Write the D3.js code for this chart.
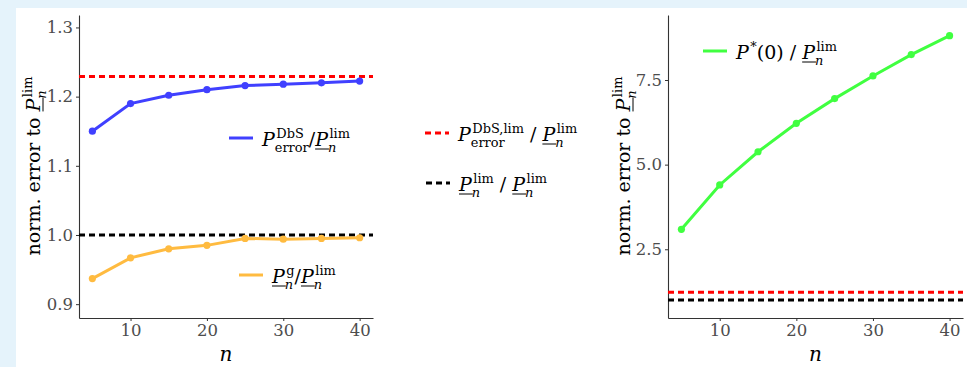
<!DOCTYPE html>
<html>
<head>
<meta charset="utf-8">
<script src="https://cdn.jsdelivr.net/npm/d3@7"></script>
<style>
  body { margin: 0; background: #e5f3fb; }
  svg { display: block; }
  text { font-family: "DejaVu Serif", serif; white-space: pre; }
</style>
</head>
<body>
<div id="container"></div>
<script>
// data
var nVals = [5, 10, 15, 20, 25, 30, 35, 40];
var dbsRatio = [1.150, 1.190, 1.202, 1.210, 1.216, 1.218, 1.220, 1.2225];
var greedyRatio = [0.937, 0.967, 0.980, 0.985, 0.995, 0.994, 0.995, 0.996];
var p0Ratio = [3.09, 4.40, 5.38, 6.22, 6.95, 7.62, 8.25, 8.81];
var dbsLim = 1.229, baseLim = 1.0;
var xTicks = [10, 20, 30, 40];
var yTicksLeft = [0.9, 1.0, 1.1, 1.2, 1.3];
var yTicksRight = [2.5, 5.0, 7.5];

var width = 967, height = 367;
var svg = d3.select("div#container").append("svg")
  .attr("width", width)
  .attr("height", height);

// white plotting area
svg.append("rect").attr("x", 16).attr("y", 8)
  .attr("width", width - 16).attr("height", height - 8).attr("fill", "#fff");

var blue = "#4040ff", orange = "#ffbb40", green = "#40ff40";

// small helper to write things like P_n^lim with separate texts
// tokens: {b: base text, it: italic, ul: underline, sup, sub}
function mathText(g, x, y, tokens, fs) {
  var cx = x;
  tokens.forEach(function(t) {
    var bt = g.append("text").attr("x", cx).attr("y", y)
      .style("font-size", fs + "px")
      .style("font-style", t.it ? "italic" : "normal")
      .text(t.b);
    var w = bt.node().getComputedTextLength();
    if (t.ul) {
      g.append("line").attr("x1", cx).attr("x2", cx + w + 1)
        .attr("y1", y + 3).attr("y2", y + 3)
        .attr("stroke", "#000").attr("stroke-width", 1);
    }
    var extra = 0;
    var off = t.it ? 1.5 : 0;
    if (t.sup) {
      var st = g.append("text").attr("x", cx + w + off).attr("y", y - fs * 0.42)
        .style("font-size", (fs * 0.68) + "px")
        .style("font-style", t.supIt ? "italic" : "normal")
        .text(t.sup);
      extra = Math.max(extra, st.node().getComputedTextLength() + off);
    }
    if (t.sub) {
      var sb = g.append("text").attr("x", cx + w).attr("y", y + fs * 0.3)
        .style("font-size", (fs * 0.68) + "px")
        .style("font-style", t.subIt ? "italic" : "normal")
        .text(t.sub);
      extra = Math.max(extra, sb.node().getComputedTextLength());
    }
    cx += w + extra;
  });
  return cx - x;
}

var Plim = {b: "P", it: true, ul: true, sub: "n", subIt: true, sup: "lim"};

function drawPanel(left, right, top, bottom, yDomain, yTicks, yFmt) {
  var x = d3.scaleLinear().domain([3.25, 41.75]).range([left, right]);
  var y = d3.scaleLinear().domain(yDomain).range([bottom, top]);
  var g = svg.append("g");

  var xAxis = g.append("g").attr("transform", "translate(0," + bottom + ")")
    .call(d3.axisBottom(x).tickValues(xTicks).tickSizeInner(3).tickSizeOuter(0).tickPadding(3));
  var yAxis = g.append("g").attr("transform", "translate(" + left + ",0)")
    .call(d3.axisLeft(y).tickValues(yTicks).tickFormat(d3.format(yFmt))
      .tickSizeInner(3).tickSizeOuter(0).tickPadding(3));
  [xAxis, yAxis].forEach(function(a) {
    a.attr("font-family", null);
    a.select(".domain").attr("stroke", "#333").attr("stroke-width", 1.1);
    a.selectAll(".tick line").attr("stroke", "#333");
    a.selectAll(".tick text").attr("fill", "#4d4d4d")
      .style("font-family", "'DejaVu Serif', serif").style("font-size", "16.5px");
  });

  // x title
  g.append("text").attr("x", (left + right) / 2).attr("y", 361)
    .attr("text-anchor", "middle").style("font-style", "italic")
    .style("font-size", "20px").text("n");

  return {g: g, x: x, y: y, left: left, right: right, top: top, bottom: bottom};
}

function yTitle(cy, baseX) {
  var tg = svg.append("g");
  var w = mathText(tg, 0, 0, [{b: "norm. error to "}, Plim], 19);
  tg.attr("transform", "translate(" + baseX + "," + cy + ") rotate(-90) translate(" + (-w / 2) + ",0)");
}

function hline(p, v, color) {
  p.g.append("line")
    .attr("x1", p.left).attr("x2", p.right)
    .attr("y1", p.y(v)).attr("y2", p.y(v))
    .attr("stroke", color).attr("stroke-width", 3)
    .attr("stroke-dasharray", "6,4");
}

function series(p, vals, color) {
  var pts = nVals.map(function(n, i) { return [n, vals[i]]; });
  p.g.append("path").datum(pts)
    .attr("fill", "none").attr("stroke", color).attr("stroke-width", 3)
    .attr("d", d3.line().x(function(d) { return p.x(d[0]); }).y(function(d) { return p.y(d[1]); }));
  p.g.selectAll(null).data(pts).enter().append("circle")
    .attr("cx", function(d) { return p.x(d[0]); })
    .attr("cy", function(d) { return p.y(d[1]); })
    .attr("r", 3.6).attr("fill", color);
}

function legendItem(x, y, color, dashed, tokens) {
  svg.append("line").attr("x1", x).attr("x2", x + 24).attr("y1", y).attr("y2", y)
    .attr("stroke", color).attr("stroke-width", 3)
    .attr("stroke-dasharray", dashed ? "6,4" : null);
  mathText(svg.append("g"), x + 33, y + 8, tokens, 19);
}

// left panel
var pL = drawPanel(79, 373, 15, 318, [0.88, 1.318], yTicksLeft, ".1f");
hline(pL, dbsLim, "red");
hline(pL, baseLim, "#000");
series(pL, dbsRatio, blue);
series(pL, greedyRatio, orange);
yTitle(166, 40);

legendItem(229, 138, blue, false,
  [{b: "P", it: true, sup: "DbS", sub: "error"}, {b: "/"}, Plim]);
legendItem(239, 275, orange, false,
  [{b: "P", it: true, ul: true, sub: "n", subIt: true, sup: "g"}, {b: "/"}, Plim]);

// middle legend
legendItem(425, 133, "red", true,
  [{b: "P", it: true, sup: "DbS,lim", sub: "error"}, {b: " / "}, Plim]);
legendItem(426, 183, "#000", true,
  [Plim, {b: " / "}, Plim]);

// right panel
var pR = drawPanel(668, 963, 15, 318, [0.47, 9.42], yTicksRight, ".1f");
hline(pR, dbsLim, "red");
hline(pR, baseLim, "#000");
series(pR, p0Ratio, green);
yTitle(166, 630);

legendItem(703, 51, green, false,
  [{b: "P", it: true, sup: "*"}, {b: "(0) / "}, Plim]);
</script>
</body>
</html>
